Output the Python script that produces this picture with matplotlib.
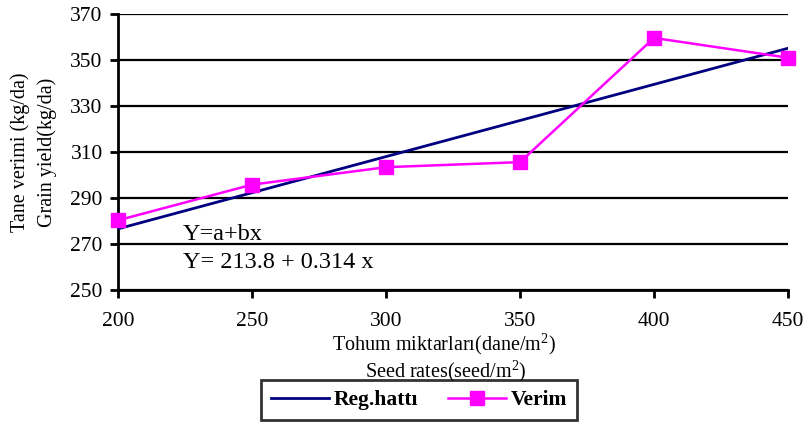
import matplotlib.pyplot as plt

plt.rcParams['font.family'] = ['Liberation Serif', 'DejaVu Serif']
plt.rcParams['mathtext.fontset'] = 'custom'
plt.rcParams['mathtext.rm'] = 'Liberation Serif'

seed_rates = [200, 250, 300, 350, 400, 450]
verim = [280.3, 295.8, 303.4, 305.6, 359.6, 351.0]
reg_hatti = [276.6, 292.3, 308.0, 323.7, 339.4, 355.1]
y_ticks = [250, 270, 290, 310, 330, 350, 370]


def main():
    fig = plt.figure(figsize=(8.06, 4.22), dpi=100)
    ax = fig.add_axes([0.1464, 0.3128, 0.8313, 0.654])

    ax.plot(seed_rates, reg_hatti, color='#000080', lw=2, label='Reg.hattı', zorder=3)
    ax.plot(seed_rates, verim, color='#FF00FF', lw=1.8, marker='s', markersize=10,
            label='Verim', clip_on=False, zorder=4)

    ax.set_xlim(200, 450)
    ax.set_ylim(250, 370)
    ax.set_yticks(y_ticks)
    ax.set_xticks(seed_rates)
    ax.yaxis.grid(True, color='black', lw=1.6)
    ax.set_axisbelow(True)
    for s in ['top', 'right']:
        ax.spines[s].set_visible(False)
    ax.spines['left'].set_linewidth(2)
    ax.spines['bottom'].set_linewidth(2)
    ax.tick_params(direction='out', length=6, width=2, labelsize=15.5)
    ax.tick_params(axis='x', pad=10)
    ax.tick_params(axis='y', pad=5)

    ax.text(0.097, 0.2, 'Y=a+bx', transform=ax.transAxes, fontsize=17.5, va='center')
    ax.text(0.097, 0.098, 'Y= 213.8 + 0.314 x', transform=ax.transAxes, fontsize=17.5, va='center')

    fig.text(0.025, 0.64, 'Tane verimi (kg/da)', rotation=90, fontsize=14.5, ha='center', va='center')
    fig.text(0.058, 0.64, 'Grain yield(kg/da)', rotation=90, fontsize=14.5, ha='center', va='center')
    fig.text(0.551, 0.185, 'Tohum miktarları(dane/m$^{2}$)', fontsize=14.5, ha='center', va='center')
    fig.text(0.553, 0.12, 'Seed rates(seed/m$^{2}$)', fontsize=14.5, ha='center', va='center')

    leg = fig.legend(loc='center', bbox_to_anchor=(0.52, 0.052), ncol=2, frameon=True,
                     fancybox=False, edgecolor='black', prop={'weight': 'bold', 'size': 15.5},
                     handlelength=2.7, columnspacing=1.4, borderpad=0.45, handletextpad=0.2)
    leg.get_frame().set_linewidth(2)

    plt.savefig('out.png', dpi=100)


if __name__ == '__main__':
    main()
